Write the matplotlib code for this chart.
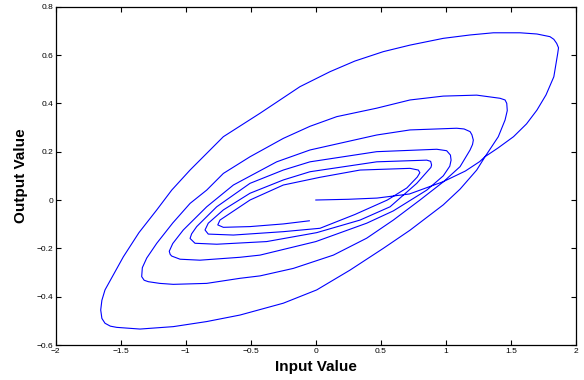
import matplotlib
matplotlib.use("Agg")
import matplotlib.pyplot as plt

# values, in drawing order (start at origin, spiral inward)
input_value = [
    0.0, 0.25, 0.47, 0.72, 0.98, 1.15, 1.26, 1.30, 1.40, 1.52, 1.62, 1.70, 1.77, 1.83, 1.86,
    1.866, 1.852, 1.83, 1.80, 1.70, 1.57, 1.365, 1.186, 0.98, 0.724, 0.519, 0.30, 0.109, -0.122,
    -0.429, -0.711, -0.967, -1.108, -1.223, -1.36, -1.48, -1.621, -1.645, -1.654, -1.645,
    -1.621, -1.58, -1.531,
    -1.352, -1.096, -0.839, -0.583, -0.25, 0.007, 0.263, 0.519, 0.724, 0.98,
    1.109, 1.237, 1.301, 1.403, 1.455, 1.472, 1.468,
    1.455, 1.416, 1.237, 0.98, 0.724, 0.468, 0.161, -0.045, -0.25, -0.506,
    -0.711, -0.839, -0.967, -1.1, -1.223, -1.30, -1.334, -1.339, -1.32, -1.288, -1.2, -1.096,
    -0.839, -0.583, -0.429, -0.173, 0.135, 0.391, 0.596, 0.801, 0.98, 1.109,
    1.186, 1.205, 1.211,
    1.20, 1.186, 1.14, 1.083, 0.724, 0.468, -0.045, -0.301, -0.634, -0.839, -1.019, -1.1,
    -1.127, -1.12, -1.108, -1.044, -0.891, -0.583, -0.429, 0.0, 0.391, 0.596, 0.853,
    0.98, 1.03, 1.04, 1.035,
    1.006, 0.93, 0.468, -0.045, -0.25, -0.506, -0.762, -0.916, -0.955, -0.967, -0.929,
    -0.762, -0.378, 0.007, 0.34, 0.571, 0.776, 0.86, 0.885, 0.89,
    0.883, 0.853, 0.468, -0.045, -0.25, -0.506, -0.711, -0.827, -0.852, -0.827,
    -0.634, -0.25, 0.032, 0.3, 0.55, 0.7, 0.78, 0.80,
    0.788, 0.724, 0.34, 0.032, -0.25, -0.506, -0.66, -0.737, -0.754, -0.711,
    -0.506, -0.25, -0.05,
]
output_value = [
    0.0, 0.003, 0.008, 0.025, 0.076, 0.12, 0.159, 0.179, 0.215, 0.262, 0.315, 0.372, 0.435, 0.51, 0.607,
    0.63, 0.648, 0.665, 0.676, 0.687, 0.692, 0.692, 0.683, 0.669, 0.641, 0.614, 0.575, 0.531, 0.469,
    0.359, 0.262, 0.124, 0.041, -0.041, -0.135, -0.235, -0.372, -0.415, -0.455, -0.49,
    -0.51, -0.522, -0.527,
    -0.534, -0.524, -0.503, -0.476, -0.427, -0.372, -0.29, -0.2, -0.125, -0.02,
    0.045, 0.124, 0.179, 0.262, 0.331, 0.37, 0.40,
    0.414, 0.421, 0.434, 0.43, 0.414, 0.38, 0.345, 0.305, 0.255, 0.179,
    0.11, 0.041, -0.014, -0.095, -0.179, -0.24, -0.28, -0.317, -0.332, -0.338, -0.345, -0.349,
    -0.345, -0.324, -0.314, -0.283, -0.228, -0.158, -0.083, 0.0, 0.075, 0.138,
    0.207, 0.23, 0.248,
    0.27, 0.283, 0.294, 0.297, 0.29, 0.269, 0.207, 0.158, 0.062, -0.028, -0.124, -0.18,
    -0.212, -0.225, -0.232, -0.245, -0.249, -0.237, -0.228, -0.172, -0.096, -0.045, 0.041,
    0.1, 0.14, 0.165, 0.186,
    0.204, 0.21, 0.2, 0.158, 0.124, 0.069, -0.028, -0.11, -0.14, -0.159, -0.179,
    -0.183, -0.172, -0.135, -0.083, -0.028, 0.069, 0.12, 0.135, 0.145,
    0.16, 0.165, 0.158, 0.117, 0.083, 0.028, -0.041, -0.096, -0.124, -0.141,
    -0.145, -0.131, -0.117, -0.06, 0.0, 0.05, 0.095, 0.113,
    0.124, 0.131, 0.124, 0.094, 0.062, 0.0, -0.055, -0.083, -0.103, -0.113,
    -0.11, -0.099, -0.086,
]

xticks = [-2, -1.5, -1, -0.5, 0, 0.5, 1, 1.5, 2]
yticks = [-0.6, -0.4, -0.2, 0, 0.2, 0.4, 0.6, 0.8]

plt.rcParams['font.family'] = ['Liberation Sans', 'DejaVu Sans']

fig = plt.figure(figsize=(5.84, 3.80), dpi=100)
ax = fig.add_axes([0.0954, 0.0921, 0.8908, 0.8903])

ax.plot(input_value, output_value, color=(0, 0, 1), lw=0.8)

ax.set_xlim(-2, 2)
ax.set_ylim(-0.6, 0.8)
ax.set_xticks(xticks)
ax.set_yticks(yticks)
ax.set_xticklabels(['\u2212' + str(abs(t)) if t < 0 else str(t) for t in xticks])
ax.set_yticklabels(['\u2212' + str(abs(t)) if t < 0 else str(t) for t in yticks])
ax.tick_params(direction='in', top=True, right=True, length=3.5, width=0.8,
               labelsize=6, pad=2)
for s in ax.spines.values():
    s.set_linewidth(0.9)

ax.set_xlabel('Input Value', fontsize=11, fontweight='bold', labelpad=4)
ax.set_ylabel('Output Value', fontsize=11, fontweight='bold', labelpad=6)

plt.savefig('out.png', dpi=100)
